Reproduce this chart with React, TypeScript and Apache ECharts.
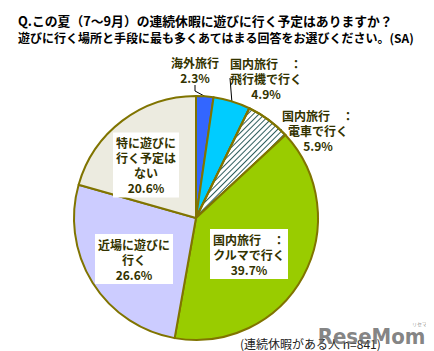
import React, { useEffect, useRef } from "react";
import * as echarts from "echarts";

const titleLines = [
  "Q.この夏（7～9月）の連続休暇に遊びに行く予定はありますか？",
  "遊びに行く場所と手段に最も多くあてはまる回答をお選びください。(SA)",
];
const footnote = "(連続休暇がある人 n=841)";
const categories = [
  "海外旅行",
  "国内旅行　：\n飛行機で行く",
  "国内旅行　：\n電車で行く",
  "国内旅行　：\nクルマで行く",
  "近場に遊びに\n行く",
  "特に遊びに\n行く予定は\nない",
];
const values = [2.3, 4.9, 5.9, 39.7, 26.6, 20.6];
const colors = ["#3366FF", "#00CCFF", "#FFFFFF", "#99CC00", "#CCCCFF", "#ECEBE0"];
const insideLabel = [false, false, false, true, true, true];
const labelCenters = [
  [187, 62],
  [258, 70],
  [310, 122],
  [241, 246],
  [126, 251],
  [138, 157],
];

const FONT = "'Noto Sans CJK JP', sans-serif";

export default function App() {
  const ref = useRef<HTMLDivElement>(null);
  useEffect(() => {
    if (!ref.current) return;
    const chart = echarts.init(ref.current, undefined, { renderer: "svg" });
    const data = categories.map((name, i) => ({
      name,
      value: values[i],
      itemStyle:
        i === 2
          ? {
              color: "#FFFFFF",
              decal: {
                symbol: "rect",
                color: "#2F5F5F",
                backgroundColor: "#FFFFFF",
                dashArrayX: [1, 0],
                dashArrayY: [1, 2.2],
                rotation: -Math.PI / 4,
              },
            }
          : { color: colors[i] },
      label: insideLabel[i]
        ? {
            position: "inside",
            backgroundColor: "#FFFFFF",
            padding: [3, 3, 2, 3],
          }
        : { position: "outside" },
      labelLine: { show: !insideLabel[i] },
    }));
    chart.setOption({
      animation: false,
      title: [
        {
          text: titleLines[0],
          left: 10,
          top: 6,
          padding: 0,
          textStyle: { fontFamily: FONT, fontSize: 12.8, fontWeight: "bold", color: "#000" },
        },
        {
          text: titleLines[1],
          left: 10,
          top: 23,
          padding: 0,
          textStyle: { fontFamily: FONT, fontSize: 12, fontWeight: "bold", color: "#000" },
        },
        {
          text: footnote,
          left: 232,
          top: 329,
          padding: 0,
          textStyle: { fontFamily: FONT, fontSize: 12, fontWeight: "normal", color: "#222" },
        },
        {
          text: "ReseMom.",
          right: 9,
          bottom: 12,
          padding: 0,
          z: 20,
          textStyle: {
            fontFamily: "'Liberation Sans Narrow', 'DejaVu Sans Condensed', Arial, sans-serif",
            fontSize: 22,
            fontWeight: "bold",
            color: "rgba(100,100,100,0.8)",
          },
        },
        {
          text: "リセマム",
          left: 404,
          top: 313,
          padding: 0,
          z: 20,
          textStyle: { fontFamily: FONT, fontSize: 5, fontWeight: "normal", color: "rgba(120,120,120,0.8)" },
        },
      ],
      series: [
        {
          type: "pie",
          center: [188, 210],
          radius: 122,
          startAngle: 90,
          clockwise: true,
          data,
          itemStyle: { borderColor: "#807400", borderWidth: 2 },
          label: {
            formatter: (p: any) => `${p.name}\n${p.value.toFixed(1)}%`,
            fontFamily: FONT,
            fontSize: 12,
            fontWeight: "bold",
            lineHeight: 15,
            color: "#333300",
            align: "center",
          },
          labelLine: {
            lineStyle: { color: "#000", width: 1 },
            length: 10,
            length2: 6,
          },
          labelLayout: (params: any) => {
            const c = labelCenters[params.dataIndex];
            return { x: c[0], y: c[1], align: "center", verticalAlign: "middle" };
          },
          emphasis: { disabled: true },
        },
      ],
    });
    return () => chart.dispose();
  }, []);
  return <div ref={ref} style={{ width: 434, height: 351 }} />;
}
